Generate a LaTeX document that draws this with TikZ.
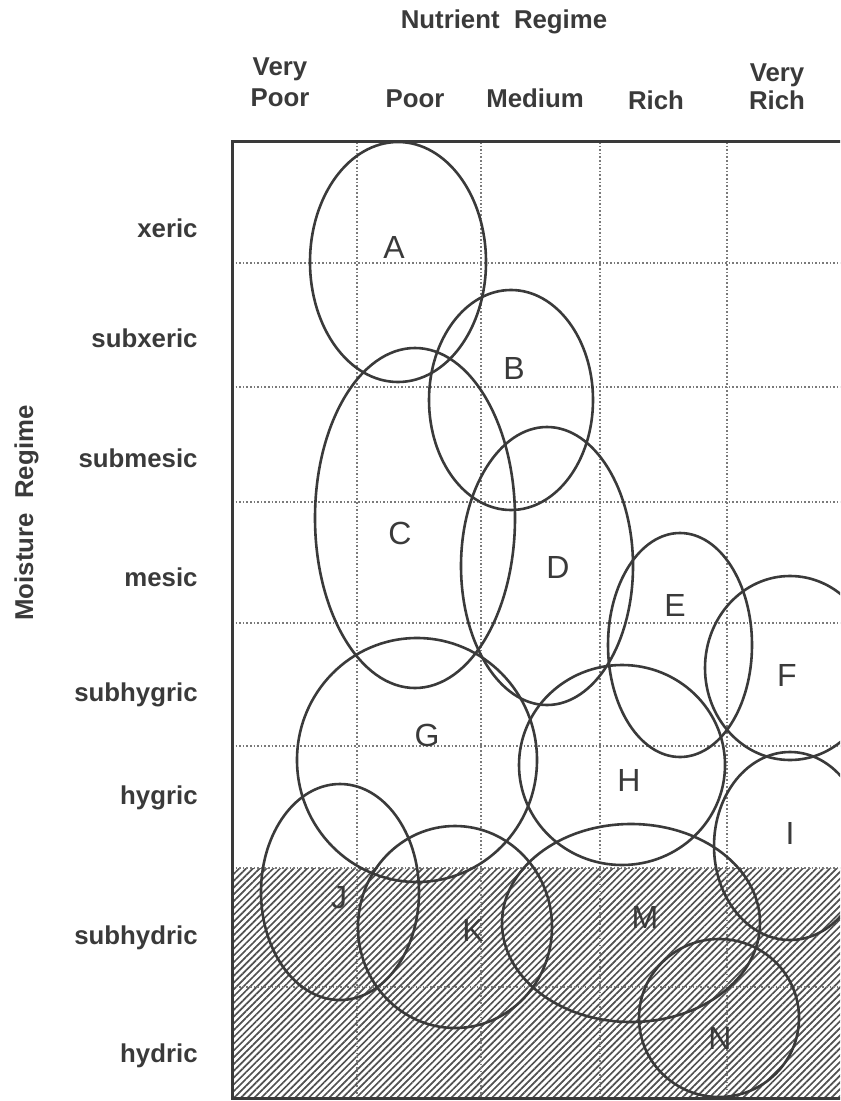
\documentclass[tikz,border=0pt]{standalone}
\usepackage{fontspec}
\setmainfont{Liberation Sans}
\usetikzlibrary{patterns.meta}
\definecolor{ink}{HTML}{3A3A3A}
\definecolor{gridc}{HTML}{7A7A7A}
\definecolor{hatchc}{HTML}{505050}

\begin{document}
\begin{tikzpicture}[x=0.5pt,y=-0.5pt,
  axislab/.style={font=\fontsize{12.9}{15}\selectfont\bfseries,text=ink,inner sep=0pt},
  zone/.style={draw=ink,line width=1.3pt},
  zonelab/.style={font=\fontsize{16}{18}\selectfont,text=ink,inner sep=0pt},
  gridline/.style={gridc,densely dotted,line width=0.8pt}]
\clip (0,0) rectangle (840,1101);
% hydric rows hatched
\fill[pattern={Lines[angle=45,distance=2.4pt,line width=0.85pt]},pattern color=hatchc]
  (232,868) rectangle (860,1098);
% grid
\foreach \x in {357,481,600,727}
  \draw[gridline] (\x,142) -- (\x,1098);
\foreach \y in {263,387,502,623,746,868,987}
  \draw[gridline] (232,\y) -- (860,\y);
\draw[ink,line width=1.5pt] (860,142) -- (232,142) -- (232,1098) -- (860,1098);
% axis titles
\node[axislab,anchor=base] (nutr) at (504,29) {Nutrient\ \ Regime};
\node[axislab,anchor=base,rotate=90] (moist) at (33,513) {Moisture\ \ Regime};
% nutrient classes
\node[axislab,anchor=base] (vpoor1) at (280,76) {Very};
\node[axislab,anchor=base] (vpoor2) at (280,107) {Poor};
\node[axislab,anchor=base] (poor) at (415,108) {Poor};
\node[axislab,anchor=base] (medium) at (535,108) {Medium};
\node[axislab,anchor=base] (rich) at (656,110) {Rich};
\node[axislab,anchor=base] (vrich1) at (777,82) {Very};
\node[axislab,anchor=base] (vrich2) at (777,110) {Rich};
% moisture classes
\foreach \m/\y in {xeric/238,subxeric/347,submesic/467,mesic/586,subhygric/701,hygric/804,subhydric/944,hydric/1062}
  \node[axislab,anchor=base east] (row-\m) at (198,\y) {\m};
% vegetation units
\foreach \n/\cx/\cy/\rx/\ry/\lx/\ly in {A/398/262/88/120/394/247,
    B/511/400/82/110/514/368, C/415/518/100/170/400/533,
    D/547/566/86/139/558/567, E/680/645/72/112/675/605,
    F/790/668/85/92/787/675, G/417/760/120/122/427/735,
    H/622/765/103/100/629/780, I/790/846/76/94/790/833,
    J/340/892/79/108/339/898, K/455/927/97/101/473/930,
    M/631/923/129/99/645/917, N/719/1018/80/79/720/1038}
{
  \draw[zone] (\cx,\cy) ellipse [x radius=\rx, y radius=\ry];
  \node[zonelab] (unit-\n) at (\lx,\ly) {\n};
}
\end{tikzpicture}
\end{document}
